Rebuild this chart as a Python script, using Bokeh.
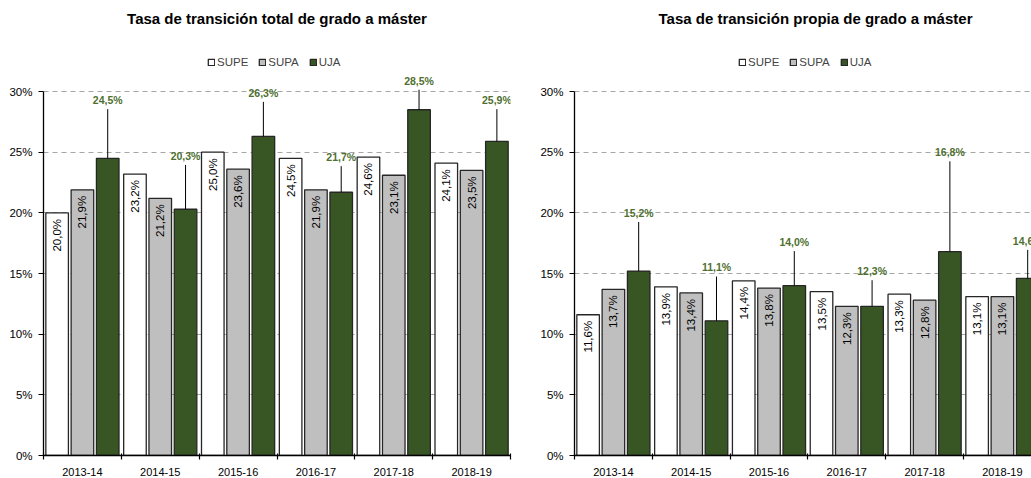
import numpy as np
from bokeh.plotting import figure
from bokeh.layouts import row
from bokeh.models import Range1d, FixedTicker, Legend, LegendItem, ColumnDataSource
from bokeh.embed import file_html
from bokeh.resources import INLINE
from bokeh.core.properties import value

# ---------------- data ----------------
categories = ["2013-14", "2014-15", "2015-16", "2016-17", "2017-18", "2018-19"]
series = ["SUPE", "SUPA", "UJA"]

total_supe = [20.0, 23.2, 25.0, 24.5, 24.6, 24.1]
total_supa = [21.9, 21.2, 23.6, 21.9, 23.1, 23.5]
total_uja = [24.5, 20.3, 26.3, 21.7, 28.5, 25.9]

propia_supe = [11.6, 13.9, 14.4, 13.5, 13.3, 13.1]
propia_supa = [13.7, 13.4, 13.8, 12.3, 12.8, 13.1]
propia_uja = [15.2, 11.1, 14.0, 12.3, 16.8, 14.6]

y_ticks = [0, 5, 10, 15, 20, 25, 30]

# hand-placed heights (in %) of the UJA call-out labels
total_uja_label_y = [29.3, 24.7, 29.9, 24.6, 30.9, 29.3]
propia_uja_label_y = [20.0, 15.5, 17.6, 15.2, 25.0, 17.7]

# ---------------- style ----------------
FONT = "Liberation Sans"
FILL = ["#ffffff", "#bfbfbf", "#375623"]
OUTLINE = "#262626"
LABEL_GREEN = "#4f7030"
GRID = "#a6a6a6"
OFFSETS = [-0.325, 0.0, 0.325]
BAR_W = 0.29
Y_TOP = 34.95
HEIGHT = 478


def fmt(v):
    return f"{v:.1f}%".replace(".", ",")


def make_chart(title, supe, supa, uja, uja_label_y, width, x_end,
               border_left, border_right, title_align, title_offset):
    p = figure(width=width, height=HEIGHT,
               x_range=Range1d(-0.5, x_end), y_range=Range1d(0, Y_TOP),
               output_backend="svg", toolbar_location=None,
               min_border_left=border_left, min_border_right=border_right,
               min_border_top=31, min_border_bottom=0)
    p.outline_line_color = None
    p.background_fill_color = "white"
    p.border_fill_color = "white"

    p.title.text = title
    p.title.align = title_align
    p.title.offset = title_offset
    p.title.text_font = FONT
    p.title.text_font_size = "15px"
    p.title.text_font_style = "bold"
    p.title.text_color = "#000000"

    p.xgrid.visible = False
    p.ygrid.ticker = FixedTicker(ticks=y_ticks)
    p.ygrid.grid_line_color = GRID
    p.ygrid.grid_line_dash = "5 4"
    p.ygrid.grid_line_width = 1

    idx = np.arange(len(categories))
    renderers = []
    for k, vals in enumerate([supe, supa, uja]):
        xs = idx + OFFSETS[k]
        src = ColumnDataSource(dict(x=xs, top=vals,
                                    lab=[fmt(v) for v in vals],
                                    ly=[v - 0.5 for v in vals]))
        r = p.vbar(x="x", top="top", width=BAR_W, source=src,
                   fill_color=FILL[k], line_color=OUTLINE, line_width=1.3)
        renderers.append(r)
        if k < 2:
            p.text(x="x", y="ly", text="lab", source=src, angle=np.pi / 2,
                   text_align="right", text_baseline="middle",
                   text_font=value(FONT), text_font_size="11.5px",
                   text_color="#000000")
        else:
            lsrc = ColumnDataSource(dict(x=xs, top=vals, ly=uja_label_y,
                                         ly0=[y - 0.75 for y in uja_label_y],
                                         lab=[fmt(v) for v in vals]))
            p.segment(x0="x", y0="ly0", x1="x", y1="top", source=lsrc,
                      line_color="#000000", line_width=1)
            p.text(x="x", y="ly", text="lab", source=lsrc,
                   text_align="center", text_baseline="middle",
                   text_font=value(FONT), text_font_size="10.5px",
                   text_font_style="bold", text_color=LABEL_GREEN)

    legend = Legend(items=[LegendItem(label=s, renderers=[r])
                           for s, r in zip(series, renderers)],
                    orientation="horizontal", location=(164, 387),
                    margin=0, padding=0, spacing=10, label_standoff=2,
                    glyph_width=8, glyph_height=8, label_height=12,
                    label_text_font=FONT, label_text_font_size="11.5px",
                    border_line_color=None, background_fill_alpha=0)
    p.add_layout(legend)

    # y axis
    ya = p.yaxis[0]
    ya.ticker = FixedTicker(ticks=y_ticks)
    ya.major_label_overrides = {t: f"{t}%" for t in y_ticks}
    ya.bounds = (0, 30)
    ya.axis_line_width = 1.3
    ya.axis_line_color = "#000000"
    ya.major_tick_in = 0
    ya.major_tick_out = 5
    ya.major_tick_line_color = "#000000"
    ya.minor_tick_line_color = None
    ya.major_label_text_font = FONT
    ya.major_label_text_font_size = "11.5px"
    ya.major_label_text_color = "#000000"
    ya.major_label_standoff = 6

    # x axis
    xa = p.xaxis[0]
    xa.ticker = FixedTicker(ticks=list(idx),
                            minor_ticks=[i - 0.5 for i in range(len(categories) + 1)])
    xa.major_label_overrides = {int(i): c for i, c in zip(idx, categories)}
    xa.major_tick_line_color = None
    xa.major_tick_in = 0
    xa.major_tick_out = 0
    xa.minor_tick_line_color = "#000000"
    xa.minor_tick_in = 2
    xa.minor_tick_out = 4
    xa.minor_tick_line_width = 1.2
    xa.axis_line_width = 1.3
    xa.axis_line_color = "#000000"
    xa.major_label_text_font = FONT
    xa.major_label_text_font_size = "11px"
    xa.major_label_text_color = "#000000"
    xa.major_label_standoff = 8
    return p


p1 = make_chart("Tasa de transición total de grado a máster",
                total_supe, total_supa, total_uja, total_uja_label_y,
                width=520, x_end=5.5, border_left=43, border_right=10,
                title_align="center", title_offset=0)
p2 = make_chart("Tasa de transición propia de grado a máster",
                propia_supe, propia_supa, propia_uja, propia_uja_label_y,
                width=511, x_end=5.374, border_left=54, border_right=0,
                title_align="left", title_offset=84)

layout = row(p1, p2)
open("out.html", "w").write(file_html(layout, INLINE))
